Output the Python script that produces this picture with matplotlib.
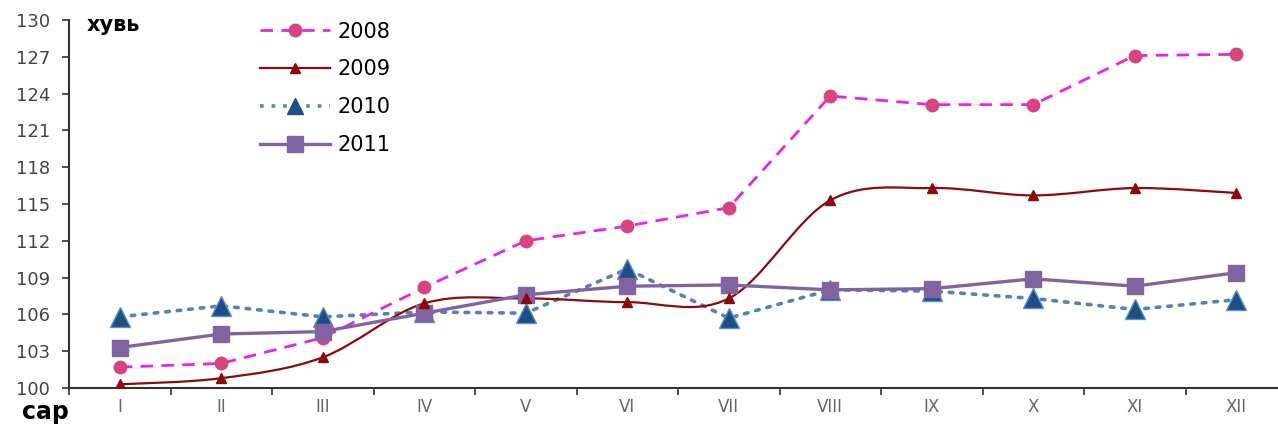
import numpy as np
import matplotlib.pyplot as plt
from matplotlib.path import Path
from matplotlib.patches import PathPatch
from matplotlib.lines import Line2D

plt.rcParams["font.family"] = ["DejaVu Sans"]

months = ["I", "II", "III", "IV", "V", "VI", "VII", "VIII", "IX", "X", "XI", "XII"]
y2008 = [101.7, 102.0, 104.1, 108.2, 112.0, 113.2, 114.7, 123.8, 123.1, 123.1, 127.1, 127.2]
y2009 = [100.3, 100.8, 102.5, 106.9, 107.3, 107.0, 107.3, 115.3, 116.3, 115.7, 116.3, 115.9]
y2010 = [105.8, 106.7, 105.8, 106.2, 106.1, 109.7, 105.7, 108.0, 107.9, 107.3, 106.4, 107.2]
y2011 = [103.3, 104.4, 104.6, 106.1, 107.6, 108.3, 108.4, 108.0, 108.1, 108.9, 108.3, 109.4]
yticks = [100, 103, 106, 109, 112, 115, 118, 121, 124, 127, 130]


def smooth_path(x, y):
    # Excel style smoothed line: cubic bezier through every point
    p = np.column_stack([x, y]).astype(float)
    ext = np.vstack([p[0], p, p[-1]])
    verts = [p[0]]
    codes = [Path.MOVETO]
    for i in range(len(p) - 1):
        c1 = ext[i + 1] + (ext[i + 2] - ext[i]) / 6
        c2 = ext[i + 2] - (ext[i + 3] - ext[i + 1]) / 6
        verts += [c1, c2, p[i + 1]]
        codes += [Path.CURVE4] * 3
    return Path(verts, codes)


x = np.arange(len(months))

fig = plt.figure(figsize=(12.78, 4.28), dpi=100)
ax = fig.add_axes([69 / 1278, 40 / 428, 1218 / 1278, 368 / 428])

c08_line, c08_mk = "#e626e6", "#d9437f"
c09 = "#8b0a0a"
c10_line, c10_mk = "#5283b5", "#1f4e86"
c11 = "#8064a2"

ax.plot(x, y2008, color=c08_line, lw=2, ls=(0, (4.5, 3)), marker="o", ms=9,
        mfc=c08_mk, mec=c08_mk, zorder=3)
ax.add_patch(PathPatch(smooth_path(x, y2009), fill=False, ec=c09, lw=1.6, zorder=3))
ax.plot(x, y2009, ls="none", marker="^", ms=7, mfc=c09, mec=c09, zorder=4)
ax.plot(x, y2010, color=c10_line, lw=2.6, ls=(0, (1, 2.2)), dash_capstyle="round",
        marker="^", ms=15, mfc=c10_mk, mec="#5b8fc7", mew=1, zorder=2)
ax.plot(x, y2011, color=c11, lw=2.4, marker="s", ms=12, mfc=c11, mec=c11, zorder=3)

ax.set_xlim(-0.5, 11.5)
ax.set_ylim(100, 130)
ax.set_yticks(yticks)
ax.set_xticks(x)
ax.set_xticklabels(months)
ax.set_xticks(np.arange(-0.5, 12, 1), minor=True)
ax.tick_params(axis="x", which="major", length=0, pad=7, labelsize=12, labelcolor="#666666")
ax.tick_params(axis="x", which="minor", length=5, width=1.2, color="#333333")
ax.tick_params(axis="y", length=5, width=1.2, color="#333333", labelsize=13,
               labelcolor="#444444", pad=8.5)
for s in ["top", "right"]:
    ax.spines[s].set_visible(False)
for s in ["left", "bottom"]:
    ax.spines[s].set_color("#333333")
    ax.spines[s].set_linewidth(1.5)

fig.text(87 / 1278, 1 - 31 / 428, "хувь", fontsize=15, fontweight="bold", va="baseline")
fig.text(22 / 1278, 1 - 419 / 428, "сар", fontsize=17, fontweight="bold", va="baseline")

handles = [
    Line2D([], [], color=c08_line, lw=2, ls=(0, (4.5, 3)), marker="o", ms=9, mfc=c08_mk, mec=c08_mk),
    Line2D([], [], color=c09, lw=1.6, marker="^", ms=7, mfc=c09, mec=c09),
    Line2D([], [], color=c10_line, lw=2.6, ls=(0, (1, 2.2)), marker="^", ms=12, mfc=c10_mk, mec=c10_mk),
    Line2D([], [], color=c11, lw=2.4, marker="s", ms=12, mfc=c11, mec=c11),
]
fig.legend(handles, ["2008", "2009", "2010", "2011"], loc="upper left",
           bbox_to_anchor=(241 / 1278, 1 - 3 / 428), frameon=False, fontsize=15,
           handlelength=3.35, handletextpad=0.4, labelspacing=0.85)

fig.savefig("out.png", dpi=100)
